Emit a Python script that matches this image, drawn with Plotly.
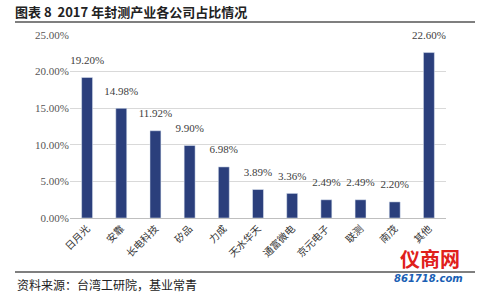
import plotly.graph_objects as go

companies = ["日月光", "安靠", "长电科技", "矽品", "力成", "天水华天", "通富微电", "京元电子", "联测", "南茂", "其他"]
shares = [19.20, 14.98, 11.92, 9.90, 6.98, 3.89, 3.36, 2.49, 2.49, 2.20, 22.60]
y_ticks = [0, 5, 10, 15, 20, 25]
y_tick_labels = [f"{v:.2f}%" for v in y_ticks]

fig = go.Figure()
fig.add_trace(go.Bar(x=companies, y=shares, marker_color="#2b3f7c", width=0.32))
fig.add_trace(go.Scatter(
    x=companies, y=shares, mode="markers+text", text=[f"{v:.2f}%" for v in shares],
    marker=dict(size=16, opacity=0), hoverinfo="skip",
    textposition="top center", cliponaxis=False,
    textfont=dict(family="Liberation Serif", size=11, color="#404040"),
))
fig.update_layout(
    width=480, height=293, margin=dict(l=70, r=34, t=35, b=75),
    paper_bgcolor="white", plot_bgcolor="white", showlegend=False,
    xaxis=dict(tickangle=-45, tickfont=dict(family="Noto Sans CJK SC", size=10, color="#333"),
               range=[-0.5, len(companies) - 0.5],
               showline=True, linecolor="#bfbfbf", ticks="", automargin=False),
    yaxis=dict(range=[0, 25], tickvals=y_ticks, ticktext=y_tick_labels, automargin=False,
               tickfont=dict(family="Liberation Serif", size=11, color="#555"),
               gridcolor="#d9d9d9", zeroline=False, ticks=""),
    title=dict(text="<b>图表 8  2017 年封测产业各公司占比情况</b>", x=15/480, xanchor="left",
               y=1-12/293, yanchor="middle", font=dict(family="Noto Sans CJK SC", size=13, color="#222")),
)
fig.add_shape(type="line", xref="paper", yref="paper", x0=-55/376, x1=(475-70)/376,
              y0=1+(35-22)/183, y1=1+(35-22)/183, line=dict(color="#555", width=1.5))
fig.add_shape(type="line", xref="paper", yref="paper", x0=-55/376, x1=(475-70)/376,
              y0=-(272-218)/183, y1=-(272-218)/183, line=dict(color="#555", width=1.5))
fig.add_annotation(text="资料来源：台湾工研院，基业常青", xref="paper", yref="paper",
                   x=-55/376, y=-(284-218)/183, xanchor="left", yanchor="middle", showarrow=False,
                   font=dict(family="Noto Sans CJK SC", size=12, color="#222"))
fig.add_annotation(text="<b>仪商网</b>", xref="paper", yref="paper",
                   x=(430-70)/376, y=-(258-218)/183, xanchor="center", yanchor="middle", showarrow=False,
                   font=dict(family="Noto Sans CJK SC", size=20, color="#e0201b"))
fig.add_annotation(text="<b><i>861718.com</i></b>", xref="paper", yref="paper",
                   x=(428-70)/376, y=-(278-218)/183, xanchor="center", yanchor="middle", showarrow=False,
                   font=dict(family="DejaVu Sans", size=10, color="#1a5fb4"))
fig.write_html("out.html")
